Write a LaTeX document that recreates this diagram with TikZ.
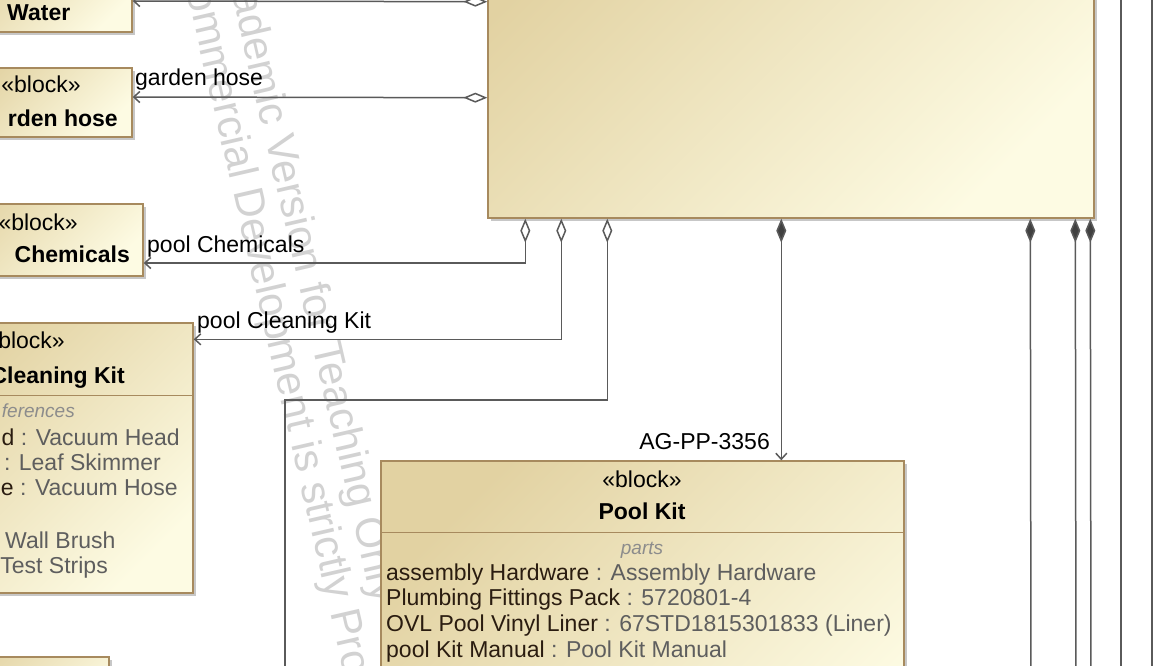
\documentclass[tikz,border=0pt]{standalone}
\usepackage{fontspec}
\setmainfont{Liberation Sans}
\usetikzlibrary{arrows.meta,shadows,calc}
\definecolor{bdark}{HTML}{E2D2A2}
\definecolor{blight}{HTML}{FDFBE3}
\definecolor{bborder}{HTML}{A78A5E}
\definecolor{conncol}{HTML}{5A5A5A}
\definecolor{wm}{HTML}{D2D2D2}
\definecolor{pname}{HTML}{2A1C10}
\definecolor{ptype}{HTML}{5E5E5E}
\definecolor{clabel}{HTML}{8C8C8C}
\tikzset{
 block/.style={rectangle, draw=bborder, line width=1.4pt, inner sep=0pt,
   top color=bdark, bottom color=blight, shading angle=45,
   drop shadow={shadow xshift=3pt, shadow yshift=-3pt, fill=black!40, opacity=0.55}},
 txt/.style={inner sep=0pt, font=\fontsize{23}{27}\selectfont, text=black},
 txtb/.style={inner sep=0pt, font=\fontsize{23}{27}\selectfont\bfseries, text=black},
 comptitle/.style={inner sep=0pt, font=\fontsize{19}{22}\selectfont\itshape, text=clabel},
 wmtxt/.style={inner sep=0pt, font=\fontsize{42}{48}\selectfont, text=wm, rotate=-77, anchor=base west},
 connline/.style={draw=conncol, line width=1.5pt},
 agg/.style={connline, {Diamond[open, length=24pt, width=10pt]}-{Straight Barb[length=6pt, width=11pt]}},
 aggfree/.style={connline, {Diamond[open, length=24pt, width=10pt]}-},
 compos/.style={connline, {Diamond[length=24pt, width=10pt, fill=black!75]}-{Straight Barb[length=6pt, width=11pt]}},
 composfree/.style={connline, {Diamond[length=24pt, width=10pt, fill=black!75]}-},
 divider/.style={draw=bborder, line width=1.4pt},
}
\begin{document}
\begin{tikzpicture}[x=1pt,y=-1pt]
\useasboundingbox (0,0) rectangle (1160,665);
\clip (0,0) rectangle (1160,665);
\fill[white] (0,0) rectangle (1160,665);

% watermark
\node[wmtxt] (wm1) at (221,-53) {Academic Version for Teaching Only};
\node[wmtxt] (wm2) at (180,-38) {Commercial Development is strictly Prohibited};

% blocks
\node[block, minimum width=172pt, minimum height=72pt] (water) at (46,-4) {};
\node[block, minimum width=177pt, minimum height=69pt] (hose) at (43.5,102.5) {};
\node[block, minimum width=213pt, minimum height=72pt] (chem) at (36.5,240) {};
\node[block, minimum width=273pt, minimum height=270pt] (clean) at (56.5,458) {};
\node[block, minimum width=169pt, minimum height=72pt] (misc) at (24.5,693) {};
\node[block, minimum width=606pt, minimum height=338pt] (big) at (791,49) {};
\node[block, minimum width=523pt, minimum height=339pt] (kit) at (642.5,630.5) {};

% block texts
\node[txtb, anchor=base west] (waterT) at (7,20) {Water};
\node[txt, anchor=base] (hoseS) at (41,92) {«block»};
\node[txtb, anchor=base east] (hoseT) at (118,126) {rden hose};
\node[txt, anchor=base east] (chemS) at (78,230) {«block»};
\node[txtb, anchor=base east] (chemT) at (130,262) {Chemicals};

\node[txt, anchor=base east] (cleanS) at (65,348) {block»};
\node[txtb, anchor=base east] (cleanT) at (125,383) {Cleaning Kit};
\draw[divider] ($(clean.north west)+(0,73)$) -- ($(clean.north east)+(0,73)$);
\node[comptitle, anchor=base east] (cleanR) at (75,417) {ferences};
\node[txt, anchor=base east] (cl1) at (180,445) {\textcolor{pname}{d} \textcolor{ptype}{: Vacuum Head}};
\node[txt, anchor=base east] (cl2) at (161,470) {\textcolor{pname}{r} \textcolor{ptype}{: Leaf Skimmer}};
\node[txt, anchor=base east] (cl3) at (178,495) {\textcolor{pname}{e} \textcolor{ptype}{: Vacuum Hose}};
\node[txt, anchor=base west, text=ptype] (cl4) at (5,548) {Wall Brush};
\node[txt, anchor=base east, text=ptype] (cl5) at (108,573) {Test Strips};

\node[txt, anchor=base] (kitS) at (642,487) {«block»};
\node[txtb, anchor=base] (kitT) at (642,519) {Pool Kit};
\draw[divider] ($(kit.north west)+(0,72)$) -- ($(kit.north east)+(0,72)$);
\node[comptitle, anchor=base] (kitP) at (642,554) {parts};
\node[txt, anchor=base west] (k1) at (386,580) {\textcolor{pname}{assembly Hardware} \textcolor{ptype}{: Assembly Hardware}};
\node[txt, anchor=base west] (k2) at (386,605) {\textcolor{pname}{Plumbing Fittings Pack} \textcolor{ptype}{: 5720801-4}};
\node[txt, anchor=base west] (k3) at (386,631) {\textcolor{pname}{OVL Pool Vinyl Liner} \textcolor{ptype}{: 67STD1815301833 (Liner)}};
\node[txt, anchor=base west] (k4) at (386,657) {\textcolor{pname}{pool Kit Manual} \textcolor{ptype}{: Pool Kit Manual}};

% connector end points
\coordinate (wS) at ($(big.south west)+(0,-217)$);
\coordinate (wE) at ($(water.east)+(0,5)$);
\coordinate (hS) at ($(big.south west)+(0,-121)$);
\coordinate (hE) at ($(hose.east)+(0,-5.5)$);
\coordinate (pcS) at ($(big.south west)+(38,0)$);
\coordinate (pcE) at ($(chem.east)+(0,23)$);
\coordinate (ckS) at ($(big.south west)+(74,0)$);
\coordinate (ckE) at ($(clean.north east)+(0,17)$);
\coordinate (frS) at ($(big.south west)+(120,0)$);
\coordinate (frC) at (285,400);
\coordinate (frE) at (285,700);
\coordinate (agS) at ($(big.south west)+(294,0)$);
\coordinate (agE) at ($(kit.north west)+(401,0)$);
\coordinate (c1S) at ($(big.south west)+(543,0)$);
\coordinate (c1E) at (1031,700);
\coordinate (c2S) at ($(big.south west)+(588,0)$);
\coordinate (c2E) at (1076,700);
\coordinate (c3S) at ($(big.south west)+(603,0)$);
\coordinate (c3E) at (1091,700);
\coordinate (r1a) at (1121,-10);
\coordinate (r1b) at (1121,700);
\coordinate (r2a) at (1152,-10);
\coordinate (r2b) at (1152,700);

% connectors
\draw[agg] (wS) -- (wE);
\draw[agg] (hS) -- (hE);
\node[txt, anchor=base west] (hoseL) at (135,85) {garden hose};
\draw[agg] (pcS) |- (pcE);
\node[txt, anchor=base west] (chemL) at (147,252) {pool Chemicals};
\draw[agg] (ckS) |- (ckE);
\node[txt, anchor=base west] (cleanL) at (197,328) {pool Cleaning Kit};
\draw[aggfree] (frS) |- (frC) -- (frE);
\draw[compos] (agS) -- (agE);
\node[txt, anchor=base east] (agL) at (770,449) {AG-PP-3356};
\draw[composfree] (c1S) -- (c1E);
\draw[composfree] (c2S) -- (c2E);
\draw[composfree] (c3S) -- (c3E);
\draw[connline] (r1a) -- (r1b);
\draw[connline] (r2a) -- (r2b);
\end{tikzpicture}
\end{document}
